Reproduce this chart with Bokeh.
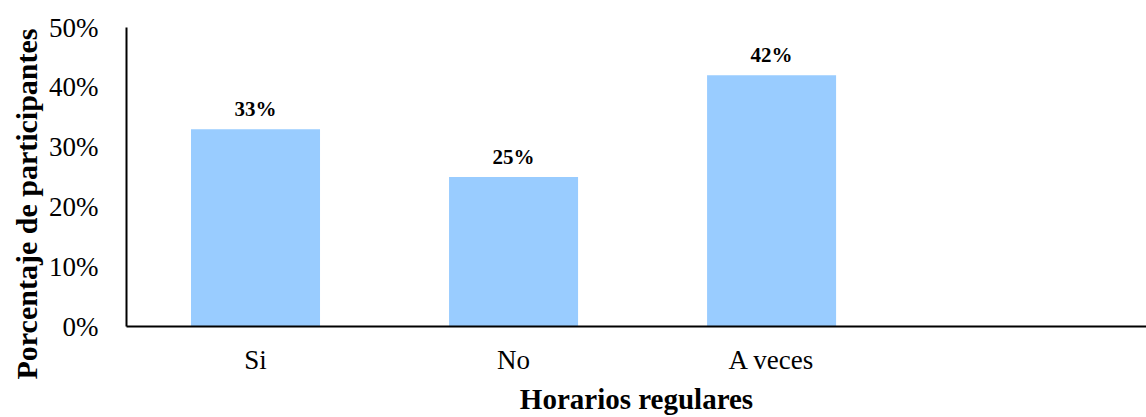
from bokeh.plotting import figure
from bokeh.models import Range1d, FixedTicker, ColumnDataSource, LabelSet, Title
from bokeh.embed import file_html
from bokeh.resources import INLINE

categories = ["Si", "No", "A veces"]
porcentajes = [33, 25, 42]
etiquetas = ["33%", "25%", "42%"]
y_ticks = [0, 10, 20, 30, 40, 50]

FONT = "'Times New Roman', 'Liberation Serif', serif"

x_pos = [i + 0.5 for i in range(len(categories))]
src = ColumnDataSource(dict(x=x_pos, top=porcentajes, label=etiquetas))

p = figure(width=1146, height=417, output_backend="svg", toolbar_location=None,
           x_range=Range1d(0, 3.953), y_range=Range1d(0, 50),
           min_border_left=126, min_border_right=0, min_border_top=27, min_border_bottom=90)
p.outline_line_color = None
p.xgrid.visible = False
p.ygrid.visible = False

p.vbar(x="x", top="top", width=0.5, source=src, fill_color="#99CCFF", line_color=None)

p.add_layout(LabelSet(x="x", y="top", text="label", source=src, text_align="center",
                      text_baseline="alphabetic", y_offset=13, text_font=FONT,
                      text_font_size="21px", text_font_style="bold", text_color="#000000"))

# y axis
p.yaxis.ticker = FixedTicker(ticks=y_ticks)
p.yaxis.major_label_overrides = {t: f"{t}%" for t in y_ticks}
p.yaxis.major_tick_line_color = None
p.yaxis.minor_tick_line_color = None
p.yaxis.major_tick_out = 0
p.yaxis.major_tick_in = 0
p.yaxis.axis_line_width = 2
p.yaxis.axis_line_color = "black"
p.yaxis.major_label_standoff = 28
p.yaxis.major_label_text_font = FONT
p.yaxis.major_label_text_font_size = "27px"
p.yaxis.major_label_text_color = "#000000"

# x axis
p.xaxis.ticker = FixedTicker(ticks=x_pos)
p.xaxis.major_label_overrides = {x: c for x, c in zip(x_pos, categories)}
p.xaxis.major_tick_line_color = None
p.xaxis.minor_tick_line_color = None
p.xaxis.major_tick_out = 0
p.xaxis.major_tick_in = 0
p.xaxis.axis_line_width = 2
p.xaxis.axis_line_color = "black"
p.xaxis.major_label_standoff = 18
p.xaxis.major_label_text_font = FONT
p.xaxis.major_label_text_font_size = "27px"
p.xaxis.major_label_text_color = "#000000"
p.xaxis.axis_label = "Horarios regulares"
p.xaxis.axis_label_text_font = FONT
p.xaxis.axis_label_text_font_size = "29px"
p.xaxis.axis_label_text_font_style = "bold"
p.xaxis.axis_label_text_color = "#000000"
p.xaxis.axis_label_standoff = 5

# vertical title on the left, starting below the frame bottom
p.add_layout(Title(text="Porcentaje de participantes", align="left", offset=-53,
                   text_font=FONT, text_font_size="30px", text_font_style="bold",
                   text_color="#000000", standoff=8), "left")

open("out.html", "w").write(file_html(p, INLINE))
